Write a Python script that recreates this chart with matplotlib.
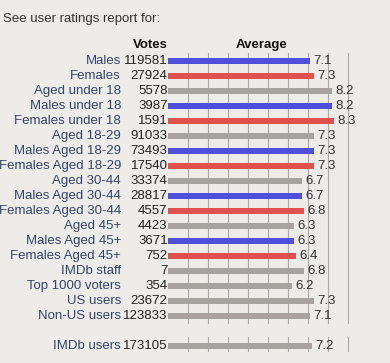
import matplotlib
matplotlib.use("Agg")
from matplotlib import pyplot as plt

# data
groups = ["Males", "Females", "Aged under 18", "Males under 18", "Females under 18",
          "Aged 18-29", "Males Aged 18-29", "Females Aged 18-29", "Aged 30-44",
          "Males Aged 30-44", "Females Aged 30-44", "Aged 45+", "Males Aged 45+",
          "Females Aged 45+", "IMDb staff", "Top 1000 voters", "US users", "Non-US users"]
votes = [119581, 27924, 5578, 3987, 1591, 91033, 73493, 17540, 33374, 28817,
         4557, 4423, 3671, 752, 7, 354, 23672, 123833]
average = [7.1, 7.3, 8.2, 8.2, 8.3, 7.3, 7.3, 7.3, 6.7, 6.7, 6.8, 6.3, 6.3, 6.4,
           6.8, 6.2, 7.3, 7.1]
kind = ["m", "f", "a", "m", "f", "a", "m", "f", "a", "m", "f", "a", "m", "f",
        "a", "a", "a", "a"]
total_label = "IMDb users"
total_votes = 173105
total_average = 7.2

colors = {"m": "#4f4fdc", "f": "#e0504c", "a": "#a8a39f"}
bg = "#eeece9"

plt.rcParams['font.family'] = ['Liberation Sans', 'DejaVu Sans']

fig = plt.figure(figsize=(3.9, 3.63), dpi=100, facecolor=bg)
ax = fig.add_axes([0, 0, 1, 1])
ax.set_facecolor(bg)
# 0 at x=168px, 20px per rating point; rows every 15px starting at y=61px
ax.set_xlim(-168 / 20, (390 - 168) / 20)
ax.set_ylim((363 - 61) / 15, -61 / 15)
ax.axis("off")

total_row = len(groups) + 1

# grid lines
for g in range(1, 10):
    ax.plot([g, g], [-0.55, len(groups) - 0.55], color="#a9a9a9", lw=0.8, zorder=1)
    ax.plot([g, g], [total_row - 0.6, total_row + 0.35], color="#a9a9a9", lw=0.8, zorder=1)

rows = list(range(len(groups)))
ax.barh(rows, average, height=0.36, left=0,
        color=[colors[k] for k in kind], zorder=2)
ax.barh([total_row], [total_average], height=0.36, color=colors["a"], zorder=2)

fs = 9.5
for i, (name, v, a) in enumerate(zip(groups, votes, average)):
    ax.text(-2.35, i, name, ha="right", va="center", fontsize=fs, color="#34456b")
    ax.text(-0.02, i, str(v), ha="right", va="center", fontsize=fs, color="#222222")
    ax.text(a + 0.15, i, f"{a}", ha="left", va="center", fontsize=fs, color="#333333")

ax.text(-2.35, total_row, total_label, ha="right", va="center", fontsize=fs, color="#34456b")
ax.text(-0.02, total_row, str(total_votes), ha="right", va="center", fontsize=fs, color="#222222")
ax.text(total_average + 0.15, total_row, f"{total_average}", ha="left", va="center",
        fontsize=fs, color="#333333")

ax.text(-0.9, -1.07, "Votes", ha="center", va="center", fontsize=fs, weight="bold", color="#111111")
ax.text(4.7, -1.07, "Average", ha="center", va="center", fontsize=fs, weight="bold", color="#111111")

fig.text(3 / 390, 1 - 19 / 363, "See user ratings report for:", ha="left", va="center",
         fontsize=fs, color="#333333")

fig.savefig("out.png", dpi=100, facecolor=bg)
